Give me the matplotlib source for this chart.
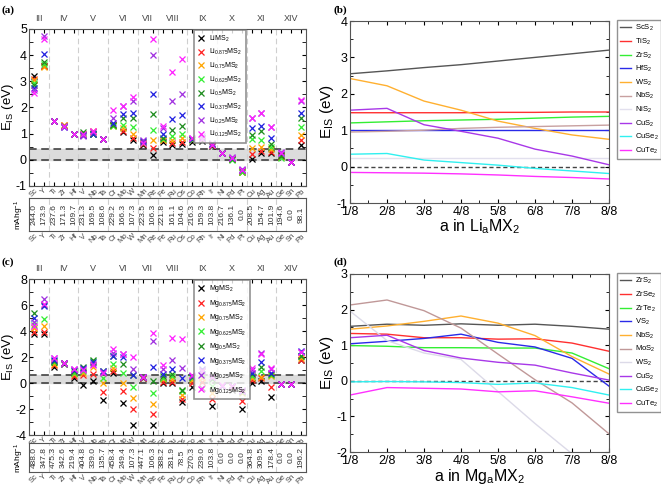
import matplotlib
matplotlib.use("Agg")
import matplotlib.pyplot as plt
import numpy as np
from matplotlib.ticker import MultipleLocator, FixedLocator

plt.rcParams['font.family'] = ['Liberation Sans', 'DejaVu Sans']
plt.rcParams['mathtext.fontset'] = 'custom'
plt.rcParams['mathtext.rm'] = 'Liberation Sans'
plt.rcParams['mathtext.it'] = 'Liberation Sans'

# ---------------- data ----------------
elements = ["Sc", "Y", "Ti", "Zr", "Hf", "V", "Nb", "Ta", "Cr", "Mo", "W", "Mn", "Re",
            "Fe", "Ru", "Os", "Co", "Rh", "Ir", "Ni", "Pd", "Pt", "Cu", "Ag", "Au", "Ge", "Sn", "Pb"]
groups = ["III", "IV", "V", "VI", "VII", "VIII", "IX", "X", "XI", "XIV"]
group_sizes = [2, 3, 3, 3, 2, 3, 3, 3, 3, 3]

cap_li = ["244.0", "173.9", "237.6", "171.3", "109.7", "231.3", "169.5", "108.6", "229.2", "166.3",
          "107.3", "223.5", "106.3", "221.8", "161.1", "104.6", "216.3", "159.3", "103.8", "216.7",
          "136.1", "0.0", "208.5", "154.7", "101.9", "194.6", "0.0", "98.1"]
cap_mg = ["488.0", "347.8", "475.3", "342.6", "219.4", "404.8", "339.0", "135.7", "458.4", "249.4",
          "107.3", "447.1", "106.3", "388.2", "281.9", "78.5", "270.3", "239.0", "103.8", "0.0",
          "0.0", "0.0", "364.8", "309.5", "178.4", "0.0", "0.0", "196.2"]

li_1000 = [3.2, 3.6, 1.5, 1.3, 1.0, 0.95, 1.0, 0.78, 1.35, 1.05, 0.75, 0.55, 0.2, 0.7, 0.55, 0.6, 0.7, 0.72, 0.52, 0.25, 0.03, -0.45, 0.05, 0.25, 0.25, 0.2, -0.1, 0.55]
li_0875 = [3.1, 3.58, 1.5, 1.35, 1.0, 1.0, 1.1, 0.8, 1.33, 1.1, 0.85, 0.6, 0.45, 0.75, 0.65, 0.7, 0.75, 0.8, 0.55, 0.25, 0.05, -0.42, 0.22, 0.35, 0.3, 0.15, -0.1, 0.75]
li_0750 = [3.05, 3.55, 1.5, 1.35, 1.0, 1.0, 1.05, 0.78, 1.3, 1.2, 1.0, 0.65, 0.75, 0.75, 0.75, 0.85, 0.78, 0.82, 0.58, 0.25, 0.02, -0.48, 0.45, 0.5, 0.4, 0.1, -0.1, 0.95]
li_0625 = [2.95, 3.65, 1.5, 1.3, 1.0, 1.0, 1.0, 0.78, 1.3, 1.35, 1.25, 0.65, 1.15, 0.8, 0.9, 1.0, 0.75, 0.78, 0.6, 0.25, 0.0, -0.45, 0.78, 0.75, 0.5, 0.08, -0.1, 1.25]
li_0500 = [2.85, 3.72, 1.5, 1.3, 1.0, 1.05, 1.0, 0.8, 1.35, 1.6, 1.6, 0.7, 1.75, 0.85, 1.15, 1.3, 0.8, 0.85, 0.6, 0.25, 0.05, -0.4, 0.95, 1.1, 0.6, 0.15, -0.1, 1.6]
li_0375 = [2.75, 4.03, 1.5, 1.25, 1.0, 0.95, 1.0, 0.78, 1.42, 1.75, 1.8, 0.72, 2.5, 1.0, 1.55, 1.7, 0.8, 0.85, 0.62, 0.25, 0.08, -0.38, 1.2, 1.3, 0.85, 0.25, -0.1, 1.8]
li_0250 = [2.65, 4.72, 1.5, 1.25, 1.0, 0.9, 1.05, 0.78, 1.58, 2.05, 2.25, 0.75, 4.0, 1.2, 2.25, 2.5, 0.85, 0.9, 0.65, 0.25, 0.1, -0.35, 1.6, 1.8, 1.25, 0.3, -0.1, 2.25]
li_0125 = [2.55, 4.6, 1.5, 1.3, 1.0, 1.0, 1.1, 0.8, 1.92, 2.05, 2.4, 0.65, 4.6, 1.3, 3.35, 3.85, 0.85, 0.8, 0.55, 0.25, 0.08, -0.4, 1.6, 1.8, 1.25, 0.25, -0.1, 2.3]

mg_1000 = [3.75, 3.8, 1.25, 1.5, 0.4, -0.15, 0.15, -1.3, 0.75, -1.5, -3.2, 0.35, -3.2, 0.0, 0.0, -1.45, -0.3, -0.35, -1.8, -0.2, -0.5, -2.0, 0.0, 0.15, -1.05, -0.05, -0.05, 1.75]
mg_0875 = [3.95, 3.95, 1.4, 1.55, 0.55, 0.6, 0.7, -0.7, 0.95, -0.6, -2.0, 0.4, -2.4, 0.1, 0.1, -1.2, 0.0, 0.1, -1.25, -0.2, -0.3, -1.35, 0.2, 0.35, -0.3, -0.05, -0.05, 1.8]
mg_0750 = [4.2, 4.35, 1.5, 1.55, 0.7, 0.8, 1.2, 0.0, 1.15, 0.0, -1.15, 0.45, -1.6, 0.3, 0.3, -0.9, 0.2, 0.4, -0.75, -0.2, -0.25, -0.8, 0.4, 0.5, 0.55, -0.05, -0.05, 1.9]
mg_0625 = [4.5, 4.9, 1.6, 1.55, 0.8, 0.9, 1.7, 0.4, 1.5, 0.75, -0.3, 0.45, -0.8, 0.4, 0.55, -0.6, 0.4, 0.7, -0.2, -0.2, -0.25, -0.7, 0.55, 0.95, 0.6, -0.05, -0.05, 2.05]
mg_0500 = [5.4, 6.0, 1.7, 1.55, 0.9, 1.25, 1.8, 0.95, 2.1, 1.45, 0.6, 0.45, 0.15, 0.55, 0.7, -0.5, 0.5, 0.9, 0.3, -0.2, -0.25, -0.6, 0.7, 1.25, 0.7, -0.05, -0.05, 2.1]
mg_0375 = [5.0, 5.9, 1.8, 1.55, 1.0, 1.15, 1.6, 0.9, 2.05, 2.0, 0.6, 0.45, 1.25, 0.7, 1.1, 0.35, 0.55, 1.05, 0.45, -0.2, -0.25, -0.6, 0.8, 1.6, 0.75, -0.05, -0.05, 2.5]
mg_0250 = [4.7, 6.5, 1.9, 1.55, 1.05, 1.1, 1.5, 0.85, 2.3, 2.2, 1.05, 0.5, 3.2, 1.05, 1.75, 1.15, 0.55, 1.0, 0.5, -0.2, -0.2, -0.55, 1.0, 2.3, 1.1, -0.05, -0.05, 2.4]
mg_0125 = [4.4, 6.1, 1.95, 1.55, 1.1, 1.0, 1.4, 0.8, 2.6, 2.2, 2.0, 0.5, 3.85, 1.4, 3.45, 3.35, 0.6, 0.95, 0.5, -0.15, -0.2, -0.65, 1.15, 2.2, 1.15, -0.05, -0.05, 2.4]

conc_labels = ["", "0.875", "0.75", "0.625", "0.5", "0.375", "0.25", "0.125"]
scatter_colors = ["black", "#ff2020", "#ffa500", "#33ee33", "#1e8c1e", "#2020e0", "#a030e0", "#ff20ff"]

fractions = ["1/8", "2/8", "3/8", "4/8", "5/8", "6/8", "7/8", "8/8"]

b_names = ["ScS$_2$", "TiS$_2$", "ZrS$_2$", "HfS$_2$", "WS$_2$", "NbS$_2$", "NiS$_2$", "CuS$_2$", "CuSe$_2$", "CuTe$_2$"]
b_ScS2 = [2.55, 2.63, 2.72, 2.8, 2.9, 3.0, 3.1, 3.2]
b_TiS2 = [1.48, 1.48, 1.48, 1.48, 1.49, 1.49, 1.5, 1.5]
b_ZrS2 = [1.2, 1.23, 1.26, 1.28, 1.3, 1.33, 1.36, 1.38]
b_HfS2 = [1.0, 1.0, 1.0, 1.0, 1.0, 1.0, 1.0, 1.0]
b_WS2 = [2.42, 2.22, 1.8, 1.55, 1.25, 1.05, 0.87, 0.75]
b_NbS2 = [0.95, 0.97, 1.0, 1.05, 1.08, 1.1, 1.12, 1.14]
b_NiS2 = [0.23, 0.23, 0.23, 0.23, 0.23, 0.23, 0.23, 0.23]
b_CuS2 = [1.55, 1.6, 1.15, 0.97, 0.78, 0.48, 0.29, 0.05]
b_CuSe2 = [0.34, 0.36, 0.18, 0.11, 0.04, -0.05, -0.12, -0.19]
b_CuTe2 = [-0.16, -0.17, -0.18, -0.2, -0.23, -0.27, -0.3, -0.34]

d_names = ["ZrS$_2$", "ZrSe$_2$", "ZrTe$_2$", "VS$_2$", "NbS$_2$", "MoS$_2$", "WS$_2$", "CuS$_2$", "CuSe$_2$", "CuTe$_2$"]
d_ZrS2 = [1.53, 1.59, 1.56, 1.6, 1.56, 1.59, 1.53, 1.45]
d_ZrSe2 = [1.33, 1.31, 1.21, 1.21, 1.17, 1.18, 1.06, 0.83]
d_ZrTe2 = [0.99, 0.97, 0.93, 0.93, 0.92, 0.92, 0.78, 0.34]
d_VS2 = [1.04, 1.11, 1.19, 1.31, 1.08, 0.95, 0.63, -0.15]
d_NbS2 = [1.45, 1.54, 1.67, 1.82, 1.62, 1.27, 0.68, 0.19]
d_MoS2 = [2.13, 2.27, 1.97, 1.48, 0.75, 0.03, -0.62, -1.49]
d_WS2 = [1.96, 1.13, 0.78, 0.6, -0.3, -1.2, -2.05, -2.9]
d_CuS2 = [1.21, 1.28, 0.85, 0.64, 0.52, 0.44, 0.22, 0.02]
d_CuSe2 = [-0.03, -0.02, -0.03, -0.05, -0.1, -0.06, -0.19, -0.4]
d_CuTe2 = [-0.4, -0.19, -0.21, -0.23, -0.31, -0.28, -0.45, -0.63]

line_colors_b = ["#555555", "#ff3030", "#33ee33", "#2a2ae8", "#ffb030", "#c8a0a0", "#e2e0ee", "#a838e8", "#30f0f0", "#ff30ff"]
line_colors_d = ["#555555", "#ff3030", "#33ee33", "#2a2ae8", "#ffb030", "#c09898", "#dcdae8", "#a838e8", "#30f0f0", "#ff30ff"]

# ---------------- figure ----------------
W, H = 661, 486
fig = plt.figure(figsize=(W / 100, H / 100), dpi=100)


def fbox(x0, y0, x1, y1):
    return [x0 / W, 1 - y1 / H, (x1 - x0) / W, (y1 - y0) / H]


n = len(elements)
xpos = np.arange(n) + 0.5
seps = np.cumsum(group_sizes)[:-1]
gcent = np.cumsum(group_sizes) - np.array(group_sizes) / 2.0
LABEL_GRAY = "#444444"


def scatter_panel(rect, trect, series, prefix, ylim, band, yticks, cap, legend_rect):
    ax = fig.add_axes(fbox(*rect))
    ax.axhspan(0, band, color="#dcdcdc", zorder=0)
    for yy in (0, band):
        ax.axhline(yy, color="#333333", ls=(0, (5, 3)), lw=1.1, zorder=1)
    for s in seps:
        ax.axvline(s, color="#cfcfcf", ls=(0, (5, 3)), lw=0.8, zorder=0)
    handles = []
    for vals, c, cl in zip(series, scatter_colors, conc_labels):
        lab = f"{prefix}MS$_2$" if cl == "" else f"{prefix}$_{{{cl}}}$MS$_2$"
        h, = ax.plot(xpos, vals, ls="none", marker="x", ms=4, mew=0.9, color=c, label=lab, zorder=3)
        handles.append(h)
    ax.set_xlim(0, n)
    ax.set_ylim(*ylim)
    ax.set_xticks(xpos)
    ax.set_xticklabels(elements, rotation=45, fontsize=5.5, color=LABEL_GRAY)
    ax.set_yticks(yticks)
    ax.set_yticklabels([str(t) for t in yticks], fontsize=9)
    ax.yaxis.set_minor_locator(MultipleLocator((yticks[1] - yticks[0]) / 2))
    ax.tick_params(axis="both", which="both", direction="in", top=True, right=True, length=3, pad=1.5)
    ax.tick_params(axis="x", pad=1)
    ax.set_ylabel("E$_{\\mathrm{IS}}$ (eV)", fontsize=9.5)
    ax.yaxis.set_label_coords(-0.046, 0.5)
    for sp in ax.spines.values():
        sp.set_color("#555555")
    sec = ax.secondary_xaxis("top")
    sec.set_xticks(gcent)
    sec.set_xticklabels(groups, fontsize=6.5, color=LABEL_GRAY)
    sec.tick_params(length=0, pad=4)
    sec.spines["top"].set_visible(False)
    leg = ax.legend(handles=handles, loc="upper left", bbox_to_anchor=legend_rect, fontsize=5,
                    frameon=True, fancybox=False, edgecolor="#777777", handlelength=1.0,
                    handletextpad=0.7, borderpad=0.5, labelspacing=0.5, borderaxespad=0,
                    bbox_transform=fig.transFigure)
    leg.get_frame().set_linewidth(1.2)
    leg.set_zorder(5)

    tax = fig.add_axes(fbox(*trect))
    tax.set_xlim(0, n)
    tax.set_ylim(0, 1)
    for s in seps:
        tax.axvline(s, color="#cfcfcf", ls=(0, (5, 3)), lw=0.8)
    for xp, c in zip(xpos, cap):
        tax.text(xp, 0.5, c, rotation=90, ha="center", va="center", fontsize=6, color="#333333")
    tax.set_yticks([])
    tax.set_xticks(xpos)
    tax.set_xticklabels(elements, rotation=45, fontsize=5.5, color=LABEL_GRAY)
    tax.tick_params(axis="x", length=0, pad=1)
    for sp in tax.spines.values():
        sp.set_color("#555555")
    tax.set_ylabel("mAhg$^{-1}$", fontsize=6, labelpad=2)
    return ax


scatter_panel((29, 29, 306, 186), (29, 198, 306, 231),
              [li_1000, li_0875, li_0750, li_0625, li_0500, li_0375, li_0250, li_0125],
              "Li", (-1, 5), 0.4, [-1, 0, 1, 2, 3, 4, 5], cap_li,
              (194 / W, 1 - 30 / H))
scatter_panel((29, 279, 306, 435), (29, 443, 306, 472),
              [mg_1000, mg_0875, mg_0750, mg_0625, mg_0500, mg_0375, mg_0250, mg_0125],
              "Mg", (-4, 8), 0.6, [-4, -2, 0, 2, 4, 6, 8], cap_mg,
              (194 / W, 1 - 280 / H))


def line_panel(rect, series, names, colors, ylim, yticks, xlabel, leg_top):
    ax = fig.add_axes(fbox(*rect))
    x = np.arange(1, 9)
    handles = []
    for vals, nm, c in zip(series, names, colors):
        h, = ax.plot(x, vals, color=c, lw=1.0, label=nm)
        handles.append(h)
    ax.axhline(0, color="#444444", ls=(0, (3, 2)), lw=1.0, zorder=1)
    ax.set_xlim(1, 8)
    ax.set_ylim(*ylim)
    ax.set_xticks(x)
    ax.set_xticklabels(fractions, fontsize=9)
    ax.xaxis.set_minor_locator(FixedLocator(np.arange(1.5, 8, 1.0)))
    ax.set_yticks(yticks)
    ax.set_yticklabels([str(t) for t in yticks], fontsize=9)
    ax.yaxis.set_minor_locator(MultipleLocator(0.5))
    ax.tick_params(axis="both", which="both", direction="in", top=True, right=True, length=3, pad=2)
    ax.tick_params(axis="both", which="minor", length=2)
    for sp in ax.spines.values():
        sp.set_color("#555555")
    ax.set_xlabel(xlabel, fontsize=11.5, labelpad=0)
    ax.set_ylabel("E$_{\\mathrm{IS}}$ (eV)", fontsize=11)
    ax.yaxis.set_label_coords(-0.055, 0.5)
    leg = ax.legend(handles=handles, loc="upper left", bbox_to_anchor=(617 / W, 1 - leg_top / H),
                    bbox_transform=fig.transFigure, fontsize=5.5, frameon=True, fancybox=False,
                    edgecolor="#777777", handlelength=1.4, handletextpad=0.5, borderpad=0.4,
                    labelspacing=0.45, borderaxespad=0)
    leg.get_frame().set_linewidth(1.0)
    return ax


line_panel((350, 21, 609, 203),
           [b_ScS2, b_TiS2, b_ZrS2, b_HfS2, b_WS2, b_NbS2, b_NiS2, b_CuS2, b_CuSe2, b_CuTe2],
           b_names, line_colors_b, (-1, 4), [-1, 0, 1, 2, 3, 4], "a in Li$_a$MX$_2$", 20)
line_panel((350, 274, 609, 452),
           [d_ZrS2, d_ZrSe2, d_ZrTe2, d_VS2, d_NbS2, d_MoS2, d_WS2, d_CuS2, d_CuSe2, d_CuTe2],
           d_names, line_colors_d, (-2, 3), [-2, -1, 0, 1, 2, 3], "a in Mg$_a$MX$_2$", 273)

for lab, (px, py) in zip(["(a)", "(b)", "(c)", "(d)"], [(2, 10), (333, 10), (2, 262), (333, 262)]):
    fig.text(px / W, 1 - py / H, lab, fontsize=8, fontweight="bold", family="Liberation Serif",
             ha="left", va="center")

fig.savefig("out.png", dpi=100)
